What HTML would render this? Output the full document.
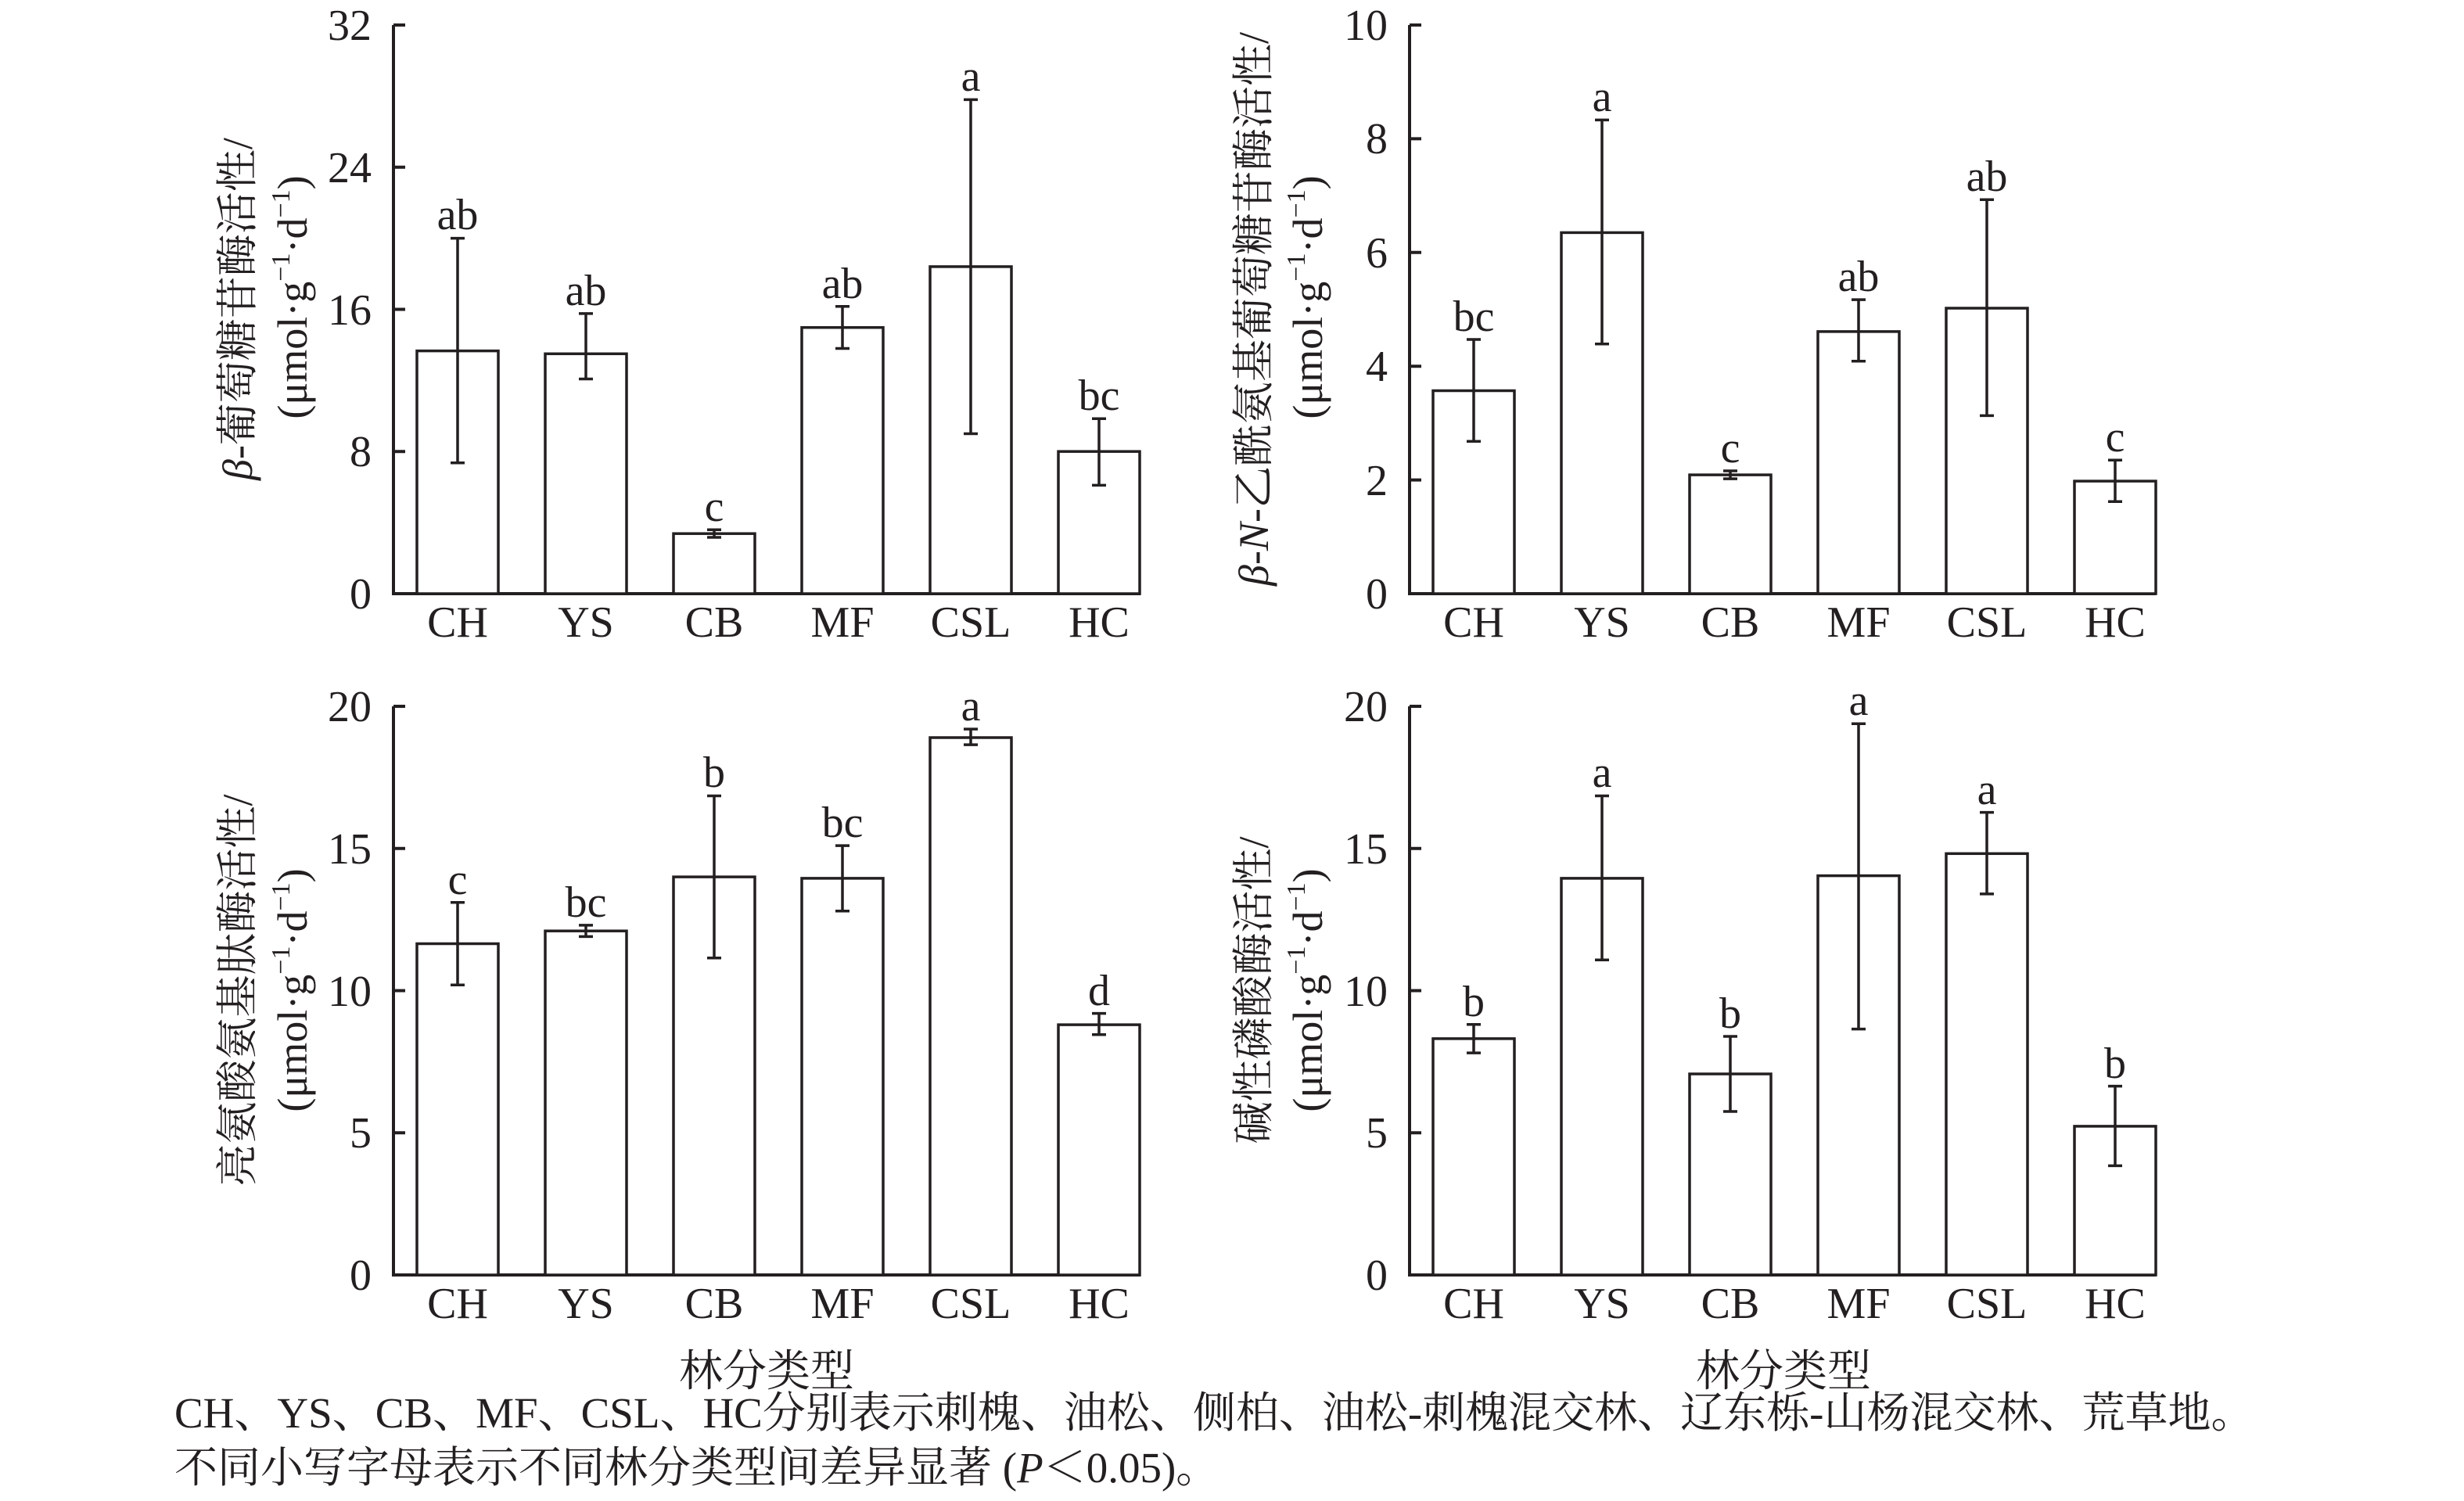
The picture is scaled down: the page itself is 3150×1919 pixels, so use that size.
<!DOCTYPE html>
<html><head><meta charset="utf-8"><style>
html,body{margin:0;padding:0;background:#fff;}
svg{display:block;}
text{font-family:"Liberation Serif","Noto Serif CJK SC","Noto Sans CJK SC",serif;fill:#231f20;}
</style></head><body>
<svg width="3150" height="1919" viewBox="0 0 3150 1919" xmlns="http://www.w3.org/2000/svg">
<g stroke="#231f20" stroke-width="4" fill="none">
<path d="M503,32 V759 H1458"/>
<path d="M503,32 h15 M503,213.75 h15 M503,395.5 h15 M503,577.25 h15"/>
<path d="M1802,32 V759 H2756"/>
<path d="M1802,32 h15 M1802,177.4 h15 M1802,322.8 h15 M1802,468.2 h15 M1802,613.6 h15"/>
<path d="M503,903 V1630 H1458"/>
<path d="M503,903 h15 M503,1084.75 h15 M503,1266.5 h15 M503,1448.25 h15"/>
<path d="M1802,903 V1630 H2756"/>
<path d="M1802,903 h15 M1802,1084.75 h15 M1802,1266.5 h15 M1802,1448.25 h15"/>
</g>
<g stroke="#231f20" stroke-width="3.5" fill="#fff">
<rect x="533" y="448.6" width="104" height="310.4"/>
<rect x="697" y="452.3" width="104" height="306.7"/>
<rect x="861" y="682.2" width="104" height="76.8"/>
<rect x="1025" y="418.7" width="104" height="340.3"/>
<rect x="1189" y="340.9" width="104" height="418.1"/>
<rect x="1353" y="577.2" width="104" height="181.8"/>
<rect x="1832" y="499.5" width="104" height="259.5"/>
<rect x="1996" y="297.4" width="104" height="461.6"/>
<rect x="2160" y="607.1" width="104" height="151.9"/>
<rect x="2324" y="423.9" width="104" height="335.1"/>
<rect x="2488" y="394.0" width="104" height="365"/>
<rect x="2652" y="615.1" width="104" height="143.9"/>
<rect x="533" y="1206.5" width="104" height="423.5"/>
<rect x="697" y="1190.2" width="104" height="439.8"/>
<rect x="861" y="1121.1" width="104" height="508.9"/>
<rect x="1025" y="1122.9" width="104" height="507.1"/>
<rect x="1189" y="943.0" width="104" height="687"/>
<rect x="1353" y="1310.1" width="104" height="319.9"/>
<rect x="1832" y="1327.9" width="104" height="302.1"/>
<rect x="1996" y="1122.9" width="104" height="507.1"/>
<rect x="2160" y="1373.0" width="104" height="257"/>
<rect x="2324" y="1119.6" width="104" height="510.4"/>
<rect x="2488" y="1091.3" width="104" height="538.7"/>
<rect x="2652" y="1439.9" width="104" height="190.1"/>
</g>
<g stroke="#231f20" stroke-width="3.5" fill="none">
<path d="M585,304.6V591.8M576,304.6h18M576,591.8h18"/>
<path d="M749,400.9V484.5M740,400.9h18M740,484.5h18"/>
<path d="M913,677.2V687M904,677.2h18M904,687h18"/>
<path d="M1077,391.8V445.5M1068,391.8h18M1068,445.5h18"/>
<path d="M1241,127.4V554.5M1232,127.4h18M1232,554.5h18"/>
<path d="M1405,535.2V620.4M1396,535.2h18M1396,620.4h18"/>
<path d="M1884,434V564.2M1875,434h18M1875,564.2h18"/>
<path d="M2048,153.4V439.8M2039,153.4h18M2039,439.8h18"/>
<path d="M2212,602V612.1M2203,602h18M2203,612.1h18"/>
<path d="M2376,383.1V461.7M2367,383.1h18M2367,461.7h18"/>
<path d="M2540,255.2V531.4M2531,255.2h18M2531,531.4h18"/>
<path d="M2704,588.2V641.2M2695,588.2h18M2695,641.2h18"/>
<path d="M585,1153.8V1259.2M576,1153.8h18M576,1259.2h18"/>
<path d="M749,1182.9V1197.4M740,1182.9h18M740,1197.4h18"/>
<path d="M913,1017.5V1224.7M904,1017.5h18M904,1224.7h18"/>
<path d="M1077,1081.1V1164.7M1068,1081.1h18M1068,1164.7h18"/>
<path d="M1241,932.1V952.1M1232,932.1h18M1232,952.1h18"/>
<path d="M1405,1295.6V1322.8M1396,1295.6h18M1396,1322.8h18"/>
<path d="M1884,1309.8V1346.1M1875,1309.8h18M1875,1346.1h18"/>
<path d="M2048,1017.5V1227.2M2039,1017.5h18M2039,1227.2h18"/>
<path d="M2212,1325V1421M2203,1325h18M2203,1421h18"/>
<path d="M2376,925.2V1315.6M2367,925.2h18M2367,1315.6h18"/>
<path d="M2540,1038.6V1142.9M2531,1038.6h18M2531,1142.9h18"/>
<path d="M2704,1388.6V1490.4M2695,1388.6h18M2695,1490.4h18"/>
</g>

<g font-size="56" text-anchor="end">
<text x="475" y="51">32</text><text x="475" y="233">24</text><text x="475" y="415">16</text><text x="475" y="596">8</text><text x="475" y="778">0</text>
<text x="1774" y="51">10</text><text x="1774" y="196">8</text><text x="1774" y="342">6</text><text x="1774" y="487">4</text><text x="1774" y="633">2</text><text x="1774" y="778">0</text>
<text x="475" y="922">20</text><text x="475" y="1104">15</text><text x="475" y="1286">10</text><text x="475" y="1467">5</text><text x="475" y="1649">0</text>
<text x="1774" y="922">20</text><text x="1774" y="1104">15</text><text x="1774" y="1286">10</text><text x="1774" y="1467">5</text><text x="1774" y="1649">0</text>
</g>

<g font-size="56" text-anchor="middle">
<text x="585" y="814">CH</text><text x="749" y="814">YS</text><text x="913" y="814">CB</text><text x="1077" y="814">MF</text><text x="1241" y="814">CSL</text><text x="1405" y="814">HC</text>
<text x="1884" y="814">CH</text><text x="2048" y="814">YS</text><text x="2212" y="814">CB</text><text x="2376" y="814">MF</text><text x="2540" y="814">CSL</text><text x="2704" y="814">HC</text>
<text x="585" y="1685">CH</text><text x="749" y="1685">YS</text><text x="913" y="1685">CB</text><text x="1077" y="1685">MF</text><text x="1241" y="1685">CSL</text><text x="1405" y="1685">HC</text>
<text x="1884" y="1685">CH</text><text x="2048" y="1685">YS</text><text x="2212" y="1685">CB</text><text x="2376" y="1685">MF</text><text x="2540" y="1685">CSL</text><text x="2704" y="1685">HC</text>

<text x="585" y="293">ab</text><text x="749" y="390">ab</text><text x="913" y="666">c</text><text x="1077" y="381">ab</text><text x="1241" y="116">a</text><text x="1405" y="524">bc</text>
<text x="1884" y="423">bc</text><text x="2048" y="142">a</text><text x="2212" y="591">c</text><text x="2376" y="372">ab</text><text x="2540" y="244">ab</text><text x="2704" y="577">c</text>
<text x="585" y="1143">c</text><text x="749" y="1172">bc</text><text x="913" y="1006">b</text><text x="1077" y="1070">bc</text><text x="1241" y="921">a</text><text x="1405" y="1285">d</text>
<text x="1884" y="1299">b</text><text x="2048" y="1006">a</text><text x="2212" y="1314">b</text><text x="2376" y="914">a</text><text x="2540" y="1028">a</text><text x="2704" y="1378">b</text>

<text x="980" y="1772">林分类型</text>
<text x="2280" y="1772">林分类型</text>
</g>

<g font-size="54" text-anchor="middle">
<text transform="translate(322,395) rotate(-90)"><tspan font-style="italic">β</tspan>-葡萄糖苷酶活性/</text>
<text transform="translate(392,380) rotate(-90)">(μmol·g<tspan font-size="34" dy="-22">−1</tspan><tspan dy="22">·d</tspan><tspan font-size="34" dy="-22">−1</tspan><tspan dy="22">)</tspan></text>
<text transform="translate(1621,395) rotate(-90)"><tspan font-style="italic">β</tspan>-<tspan font-style="italic">N</tspan>-乙酰氨基葡萄糖苷酶活性/</text>
<text transform="translate(1690,380) rotate(-90)">(μmol·g<tspan font-size="34" dy="-22">−1</tspan><tspan dy="22">·d</tspan><tspan font-size="34" dy="-22">−1</tspan><tspan dy="22">)</tspan></text>
<text transform="translate(322,1266) rotate(-90)">亮氨酸氨基肽酶活性/</text>
<text transform="translate(392,1266) rotate(-90)">(μmol·g<tspan font-size="34" dy="-22">−1</tspan><tspan dy="22">·d</tspan><tspan font-size="34" dy="-22">−1</tspan><tspan dy="22">)</tspan></text>
<text transform="translate(1621,1266) rotate(-90)">碱性磷酸酶活性/</text>
<text transform="translate(1690,1266) rotate(-90)">(μmol·g<tspan font-size="34" dy="-22">−1</tspan><tspan dy="22">·d</tspan><tspan font-size="34" dy="-22">−1</tspan><tspan dy="22">)</tspan></text>
</g>

<g font-size="55">
<text x="223" y="1825">CH、YS、CB、MF、CSL、HC分别表示刺槐、油松、侧柏、油松-刺槐混交林、辽东栎-山杨混交林、荒草地。</text>
<text x="223" y="1895">不同小写字母表示不同林分类型间差异显著 (<tspan font-style="italic">P</tspan>＜0.05)。</text>
</g>
</svg>
</body></html>
